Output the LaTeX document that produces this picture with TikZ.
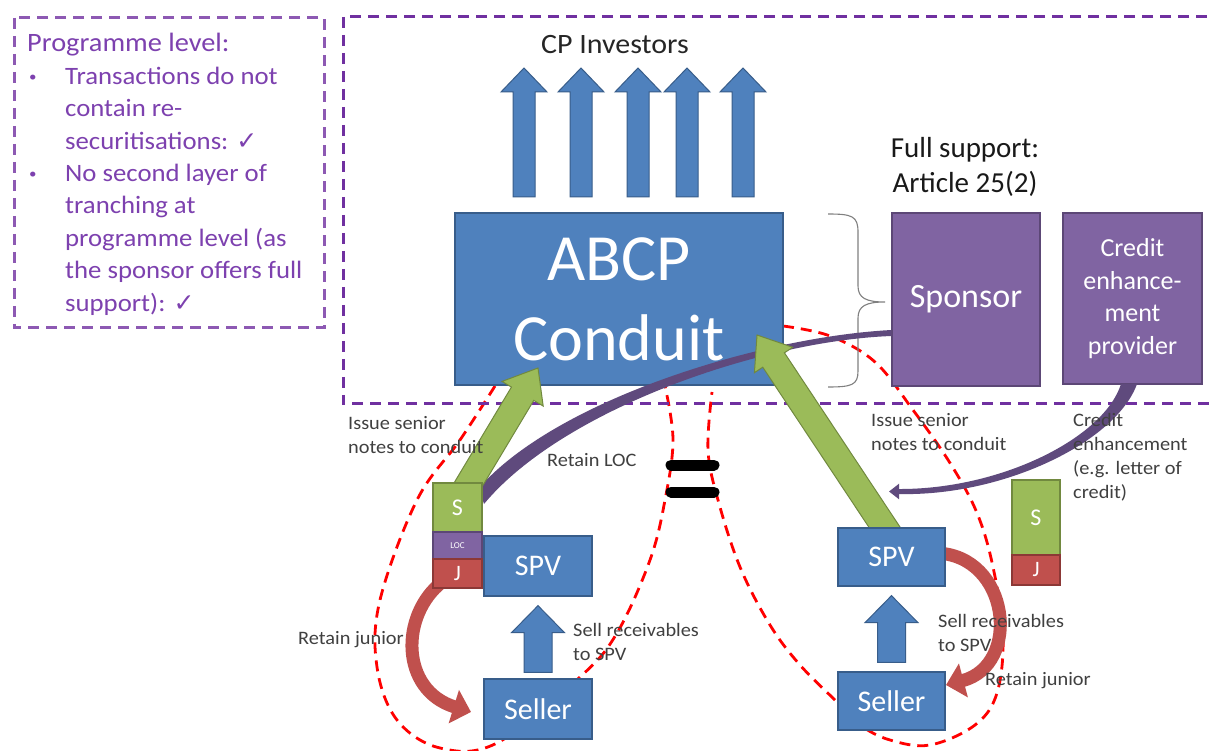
\documentclass[tikz,border=0pt]{standalone}
\usepackage{fontspec}
\setmainfont{Carlito}
\newfontfamily\wide[FakeStretch=1.07]{Carlito}
\newfontfamily\dejavu{DejaVu Sans}
\usetikzlibrary{calc,arrows.meta}
\pgfdeclarelayer{background}
\pgfsetlayers{background,main}
\definecolor{cblue}{HTML}{4F81BD}
\definecolor{cblueb}{HTML}{385D8A}
\definecolor{cpurp}{HTML}{8064A2}
\definecolor{cpurpb}{HTML}{5C4776}
\definecolor{cgreen}{HTML}{9BBB59}
\definecolor{cgreenb}{HTML}{71893F}
\definecolor{cred}{HTML}{C0504D}
\definecolor{credb}{HTML}{8C3836}
\definecolor{dpurp}{HTML}{7030A0}
\definecolor{lpurp}{HTML}{5F4A7D}
\definecolor{ltext}{HTML}{404040}
\definecolor{ptext}{RGB}{125,65,175}
\newcommand{\fsz}[2]{\fontsize{#1}{#2}\selectfont}
% #1 style, #2 tail, #3 tip, #4 half shaft, #5 half head, #6 head length
\newcommand{\blockarrow}[6]{%
  \path ($(#3)!#6!(#2)$) coordinate (hb);
  \path[#1] ($(#2)!#4!90:(#3)$) -- ($(hb)!#4!90:(#3)$) -- ($(hb)!#5!90:(#3)$) -- (#3)
     -- ($(hb)!#5!-90:(#3)$) -- ($(hb)!#4!-90:(#3)$) -- ($(#2)!#4!-90:(#3)$) -- cycle;
}
\begin{document}
\begin{tikzpicture}[x=1pt,y=-1pt,
  box/.style={draw=cblueb, fill=cblue, line width=1.3pt, text=white, inner sep=0pt, align=center},
  pbox/.style={box, draw=cpurpb, fill=cpurp},
  sbox/.style={box, draw=cgreenb, fill=cgreen},
  jbox/.style={box, draw=credb, fill=cred},
  lbl/.style={text=ltext, font=\wide\fsz{19}{24}, align=left, inner sep=0pt, anchor=west},
  dashp/.style={draw=dpurp, line width=3pt, dash pattern=on 11pt off 7pt},
  dashr/.style={draw=red, line width=2.8pt, dash pattern=on 11pt off 7pt},
  barrow/.style={fill=cblue, draw=cblueb, line width=1pt},
  garrow/.style={fill=cgreen, draw=cgreenb, line width=1pt},
  curvr/.style={draw=cred, line width=13pt, -{Triangle[length=18pt,width=34pt]}},
  eqbar/.style={line width=11pt, line cap=round, draw=black}
]
\clip (0,0) rectangle (1211,751);
\begin{pgfonlayer}{background}
\fill[white] (0,0) rectangle (1211,751);
\end{pgfonlayer}

% dashed purple frames
\draw[dashp, draw=dpurp!80] (14,18) rectangle (324,328);
\draw[dashp] (343,17) rectangle (1225,404);

% programme text
\node[anchor=base west, inner sep=0pt, text=ptext, font=\wide\fsz{25}{32.4}] (prog) at (27,52) {%
\begin{tabular}[t]{@{}p{38pt}@{}l@{}}
\multicolumn{2}{@{}l@{}}{\fsz{26.5}{32.4}Programme level:}\\
\hspace{2pt}\raisebox{3pt}{\fsz{14}{14}\textbullet} & Transactions do not\\
 & contain re-\\
 & securitisations: {\dejavu\fsz{25}{25}✓}\\
\hspace{2pt}\raisebox{3pt}{\fsz{14}{14}\textbullet} & No second layer of\\
 & tranching at\\
 & programme level (as\\
 & the sponsor offers full\\
 & support): {\dejavu\fsz{25}{25}✓}
\end{tabular}};

% main nodes
\node[box, minimum width=328pt, minimum height=172pt, font=\fsz{66}{80}] (conduit) at (619,299) {ABCP\\Conduit};
\node[pbox, minimum width=148pt, minimum height=173pt, font=\fsz{34}{40}] (sponsor) at (966,299.5) {Sponsor};
\node[pbox, minimum width=139pt, minimum height=171pt, font=\fsz{26}{32.5}] (ce) at (1132.5,298.5) {Credit\\enhance-\\ment\\provider};

\node[font=\wide\fsz{28}{34}, text=black!85, inner sep=0pt] (cp) at (615,45) {CP Investors};
\node[font=\fsz{29}{35}, align=center, inner sep=0pt, text=black!90] (full) at (965,167) {Full support:\\Article 25(2)};

% red dashed loops
\begin{pgfonlayer}{background}
\draw[dashr] plot[smooth, tension=0.6] coordinates {(495,386) (460,440) (417,500) (380,600) (377,667) (397,720) (440,748) (497,743) (580,677) (617,633) (650,560) (665,500) (673,440) (665,386)};
\draw[dashr] plot[smooth, tension=0.6] coordinates {(783,326) (830,336) (875,362) (913,410) (950,463) (977,513) (993,567) (1003,635) (997,693) (975,725) (930,745) (890,740) (860,725) (838,703) (800,665) (770,625) (740,567) (718,500) (708,450) (712,392)};
\end{pgfonlayer}

% CP investor arrows
\foreach \xx [count=\i] in {524,581,638,687,743} {
  \coordinate (cpt\i) at (\xx,197);
  \coordinate (cph\i) at (\xx,68);
  \blockarrow{barrow}{cpt\i}{cph\i}{11pt}{23pt}{24pt}
}

% brace
\draw[black!50, line width=1.1pt] (828,214) .. controls (852,214) and (858,216) .. (858,232) -- (858,286)
  .. controls (858,298) and (866,302) .. (885,302) .. controls (866,302) and (858,306) .. (858,318)
  -- (858,371) .. controls (858,385) and (852,387) .. (828,387);

% sponsor line (retain LOC)
\fill[lpurp] (sponsor.west |- 0,330) .. controls (760,337) and (556,400) .. (479,488) -- (484,504)
  .. controls (562,410) and (760,341) .. (sponsor.west |- 0,336) -- cycle;

% credit enhancement line
\fill[lpurp] (1121,384) .. controls (1104,438) and (1000,490) .. (897,489) -- (897,494)
  .. controls (1003,497) and (1116,442) .. (1137,384) -- cycle;
\coordinate (cea) at (902,491.5);
\coordinate (ceb) at (889,491.5);
\draw[lpurp, line width=2pt, -{Triangle[length=10pt,width=15pt]}] (cea) -- (ceb);

% green arrows
\coordinate (gl1) at (462,495); \coordinate (gl2) at (538,368);
\blockarrow{garrow}{gl1}{gl2}{13pt}{24pt}{30pt}
\coordinate (gr1) at (893,540); \coordinate (gr2) at (757,335);
\blockarrow{garrow}{gr1}{gr2}{13pt}{23pt}{30pt}

% red curved arrows (retain junior)
\draw[curvr] (442,582) .. controls (400,615) and (400,690) .. (471,712);
\draw[curvr] (936,553) .. controls (1010,555) and (1022,665) .. (946,685);

% lower boxes
\node[sbox, minimum width=49pt, minimum height=49pt, font=\fsz{24}{24}] (ls) at (457.5,507.5) {S};
\node[pbox, minimum width=49pt, minimum height=27pt, font=\fsz{9}{9}] (lloc) at (457.5,545.5) {LOC};
\node[jbox, minimum width=49pt, minimum height=29pt, font=\fsz{22}{22}] (lj) at (457.5,573.5) {J};
\node[box, minimum width=108pt, minimum height=60pt, font=\fsz{30}{30}] (lspv) at (538,566) {SPV};
\node[box, minimum width=108pt, minimum height=60pt, font=\fsz{30}{30}] (lseller) at (538,709) {Seller};
\node[box, minimum width=107pt, minimum height=58pt, font=\fsz{30}{30}] (rspv) at (891.5,557) {SPV};
\node[box, minimum width=107pt, minimum height=58pt, font=\fsz{30}{30}] (rseller) at (891.5,701) {Seller};
\node[sbox, minimum width=48pt, minimum height=75pt, font=\fsz{24}{24}] (rs) at (1036,517.5) {S};
\node[jbox, minimum width=48pt, minimum height=30pt, font=\fsz{22}{22}] (rj) at (1036,570) {J};

% blue seller -> SPV arrows
\coordinate (lb1) at ($(lseller.north)+(0,-6)$); \coordinate (lb2) at ($(lspv.south)+(0,9)$);
\blockarrow{barrow}{lb1}{lb2}{14pt}{26.5pt}{27pt}
\coordinate (rb1) at ($(rseller.north)+(0,-9)$); \coordinate (rb2) at ($(rspv.south)+(0,9)$);
\blockarrow{barrow}{rb1}{rb2}{14pt}{26.5pt}{27pt}

% equals sign
\coordinate (eq1) at (671,465); \coordinate (eq2) at (714,465);
\coordinate (eq3) at (671,492); \coordinate (eq4) at (714,492);
\draw[eqbar] (eq1) -- (eq2);
\draw[eqbar] (eq3) -- (eq4);

% labels
\node[lbl] (l1) at (348,435) {Issue senior\\notes to conduit};
\node[lbl] (l2) at (547,460) {Retain LOC};
\node[lbl] (l3) at (573,642) {Sell receivables\\to SPV};
\node[lbl] (l4) at (298,640) {Retain junior};
\node[lbl] (l5) at (871,432) {Issue senior\\notes to conduit};
\node[lbl] (l6) at (1073,457) {Credit\\enhancement\\(e.g. letter of\\credit)};
\node[lbl] (l7) at (938,633) {Sell receivables\\to SPV};
\node[lbl] (l8) at (985,681) {Retain junior};
\end{tikzpicture}
\end{document}
